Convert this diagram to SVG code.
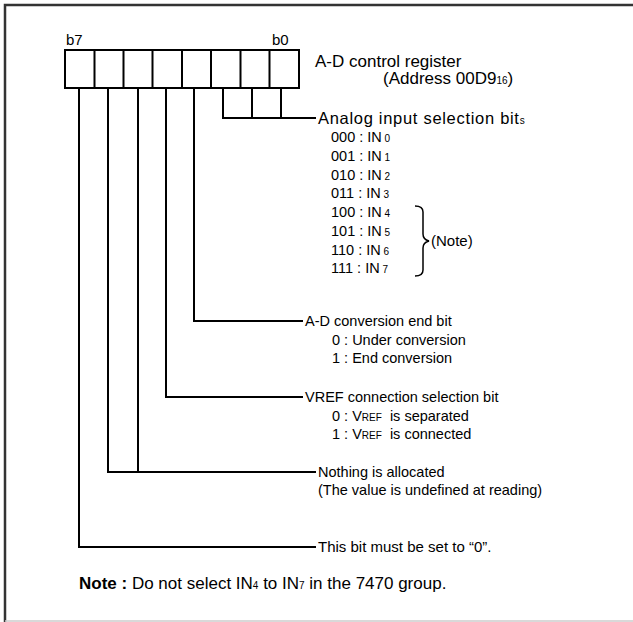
<svg xmlns="http://www.w3.org/2000/svg" width="633" height="622" viewBox="0 0 633 622">
<style>
text{font-family:"Liberation Sans",Arial,sans-serif;font-size:14.5px;fill:#000}
.big{font-size:17px}
.an{font-size:16.5px;letter-spacing:0.7px}
.s{font-size:10px;letter-spacing:0}
.b{font-weight:bold}
.ln{fill:none;stroke:#000;stroke-width:2}
</style>
<rect width="633" height="622" fill="#fff"/>
<g id="frame">
<polyline points="5,622 5,5 633,5" fill="none" stroke="#333" stroke-width="2.5"/>
<line x1="5" y1="621" x2="633" y2="621" stroke="#ccc" stroke-width="1.5"/>
</g>
<g id="register">
<rect x="65" y="50" width="234" height="38" class="ln"/>
<path class="ln" d="M94.5,50V88M123.5,50V88M152.5,50V88M182,50V88M211,50V88M240.5,50V88M269.5,50V88"/>
<text x="66" y="45" style="font-size:15px">b7</text>
<text x="272" y="45" style="font-size:15px">b0</text>
<text x="315" y="67" class="big">A-D control register</text>
<text x="383" y="84" class="big">(Address 00D9<tspan class="s">16</tspan>)</text>
</g>
<g id="connectors" class="ln">
<path d="M223,88V118H316M252,88V118M281,88V118"/>
<path d="M194,88V321H303"/>
<path d="M166,88V397H303"/>
<path d="M108,88V472H316M138,88V472"/>
<path d="M79,88V547H316"/>
<path d="M415,206c6,0 8,2 8,6v22c0,4 2,6 6,7c-4,1 -6,3 -6,7v22c0,4 -2,6 -8,6" stroke-width="1.5"/>
</g>
<g id="analog">
<text x="318" y="124" class="an">Analog input selection bit<tspan class="s">s</tspan></text>
<text x="331" y="142">000 : IN<tspan class="s"> 0</tspan></text>
<text x="331" y="161">001 : IN<tspan class="s"> 1</tspan></text>
<text x="331" y="180">010 : IN<tspan class="s"> 2</tspan></text>
<text x="331" y="198">011 : IN<tspan class="s"> 3</tspan></text>
<text x="331" y="217">100 : IN<tspan class="s"> 4</tspan></text>
<text x="331" y="236">101 : IN<tspan class="s"> 5</tspan></text>
<text x="331" y="255">110 : IN<tspan class="s"> 6</tspan></text>
<text x="331" y="273">111 : IN<tspan class="s"> 7</tspan></text>
<text x="431" y="246" style="font-size:15px">(Note)</text>
</g>
<g id="adend">
<text x="305" y="326">A-D conversion end bit</text>
<text x="332" y="345">0 : Under conversion</text>
<text x="332" y="363">1 : End conversion</text>
</g>
<g id="vref">
<text x="305" y="402">VREF connection selection bit</text>
<text x="332" y="421" xml:space="preserve">0 : V<tspan class="s">REF</tspan>  is separated</text>
<text x="332" y="439" xml:space="preserve">1 : V<tspan class="s">REF</tspan>  is connected</text>
</g>
<g id="nothing">
<text x="318" y="477">Nothing is allocated</text>
<text x="318" y="495">(The value is undefined at reading)</text>
</g>
<g id="b7">
<text x="318" y="552" style="font-size:15px">This bit must be set to “0”.</text>
</g>
<g id="note">
<text x="79" y="589" class="big"><tspan class="b">Note :</tspan> Do not select IN<tspan class="s">4</tspan> to IN<tspan class="s">7</tspan> in the 7470 group.</text>
</g>
</svg>
